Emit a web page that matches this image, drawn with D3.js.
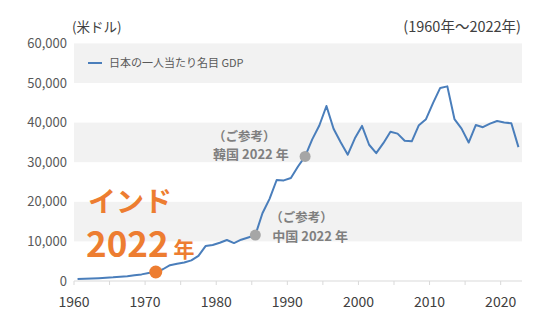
<!DOCTYPE html>
<html><head><meta charset="utf-8">
<script src="https://cdn.jsdelivr.net/npm/d3@7"></script>
<style>body{margin:0;background:#fff}svg{display:block;font-family:"Noto Sans CJK JP","Noto Sans",sans-serif}</style>
</head><body><svg id="c" width="550" height="330"></svg>
<script>
const years = d3.range(1960, 2023);
const gdp = [475,564,633,718,835,919,1059,1228,1451,1669,2037,2272,2967,3997,4354,4659,5198,6335,8821,9105,9659,10361,9578,10425,10984,11585,17112,20745,25500,25400,26000,28925,31465,35766,39269,44198,38437,35022,31903,36027,39169,34406,32289,34808,37688,37218,35434,35275,39339,40855,44968,48760,49145,40898,38475,34961,39375,38834,39727,40416,40040,39827,33815];
const yTicks = [0,10000,20000,30000,40000,50000,60000];
const xTicks = [1960,1970,1980,1990,2000,2010,2020];
const minorTicks = d3.range(1960, 2024, 5);
const seriesName = "日本の一人当たり名目 GDP";
const markers = [
  {year:1971, color:"#ed7d31", r:6.5},
  {year:1985, color:"#a6a6a6", r:5.5, label:["（ご参考）","中国 2022 年"]},
  {year:1992, color:"#a6a6a6", r:5.5, label:["（ご参考）","韓国 2022 年"]}
];

const svg = d3.select("#c");
const x = d3.scaleLinear().domain([1960, 2023]).range([74, 522]);
const y = d3.scaleLinear().domain([0, 60000]).range([281, 43.4]);

// bands
for (let i = 0; i < yTicks.length - 1; i++) {
  if (i % 2 === 1) {
    svg.append("rect").attr("x", x(1960)).attr("width", x(2023) - x(1960))
      .attr("y", y(yTicks[i+1])).attr("height", y(yTicks[i]) - y(yTicks[i+1]))
      .attr("fill", "#f2f2f2");
  }
}
// y labels
svg.append("g").selectAll("text").data(yTicks).join("text")
  .attr("x", 67).attr("y", d => y(d)).attr("dy", "0.35em")
  .attr("text-anchor", "end").attr("font-size", 13).attr("fill", "#595959")
  .text(d => d3.format(",")(d));
// x axis
svg.append("line").attr("x1", x(1960)).attr("x2", x(2023)).attr("y1", y(0)).attr("y2", y(0))
  .attr("stroke", "#d9d9d9").attr("stroke-width", 1);
svg.append("g").selectAll("line").data(minorTicks).join("line")
  .attr("x1", d => x(d)).attr("x2", d => x(d)).attr("y1", y(0)).attr("y2", y(0) + 4)
  .attr("stroke", "#d9d9d9");
svg.append("g").selectAll("text").data(xTicks).join("text")
  .attr("x", d => x(d)).attr("y", 307).attr("text-anchor", "middle")
  .attr("font-size", 14).attr("fill", "#404040").text(d => d);

// titles
svg.append("text").attr("x", 72).attr("y", 32).attr("font-size", 13.5).attr("fill", "#404040").text("(米ドル)");
svg.append("text").attr("x", 521).attr("y", 32).attr("text-anchor", "end").attr("font-size", 14.5).attr("fill", "#404040").text("(1960年〜2022年)");

// legend
svg.append("line").attr("x1", 88).attr("x2", 102).attr("y1", 63).attr("y2", 63).attr("stroke", "#4a7ebb").attr("stroke-width", 2);
svg.append("text").attr("x", 109).attr("y", 63).attr("dy", "0.35em").attr("font-size", 11).attr("fill", "#595959").text(seriesName);

// line
const data = years.map((yr, i) => ({yr, v: gdp[i]}));
svg.append("path").datum(data)
  .attr("d", d3.line().x(d => x(d.yr + 0.5)).y(d => y(d.v)))
  .attr("fill", "none").attr("stroke", "#4a7ebb").attr("stroke-width", 2).attr("stroke-linejoin", "round");

// markers
markers.forEach(m => {
  const cx = x(m.year + 0.5), cy = y(gdp[years.indexOf(m.year)]);
  svg.append("circle").attr("cx", cx).attr("cy", cy).attr("r", m.r).attr("fill", m.color);
});
// China label
{
  const m = markers[1];
  const cx = x(m.year + 0.5), cy = y(gdp[years.indexOf(m.year)]);
  svg.append("text").attr("x", cx + 15).attr("y", cy - 17).attr("dy", "0.35em").attr("font-size", 12.5).attr("font-weight", "bold").attr("fill", "#7f7f7f").text(m.label[0]);
  svg.append("text").attr("x", cx + 17).attr("y", cy + 1).attr("dy", "0.35em").attr("font-size", 13).attr("font-weight", "bold").attr("fill", "#7f7f7f").text(m.label[1]);
}
// Korea label
{
  const m = markers[2];
  const cx = x(m.year + 0.5), cy = y(gdp[years.indexOf(m.year)]);
  svg.append("text").attr("x", cx - 92).attr("y", cy - 20).attr("dy", "0.35em").attr("font-size", 12.5).attr("font-weight", "bold").attr("fill", "#7f7f7f").text(m.label[0]);
  svg.append("text").attr("x", cx - 92).attr("y", cy - 2).attr("dy", "0.35em").attr("font-size", 13).attr("font-weight", "bold").attr("fill", "#7f7f7f").text(m.label[1]);
}
// India label
svg.append("text").attr("x", 88).attr("y", 212).attr("font-size", 28).attr("font-weight", "bold").attr("fill", "#ed7d31").text("インド");
const t = svg.append("text").attr("x", 86).attr("y", 257).attr("font-weight", "bold").attr("fill", "#ed7d31");
t.append("tspan").attr("font-size", 35).text("2022");
t.append("tspan").attr("font-size", 21).attr("dx", 5).text("年");
</script></body></html>
